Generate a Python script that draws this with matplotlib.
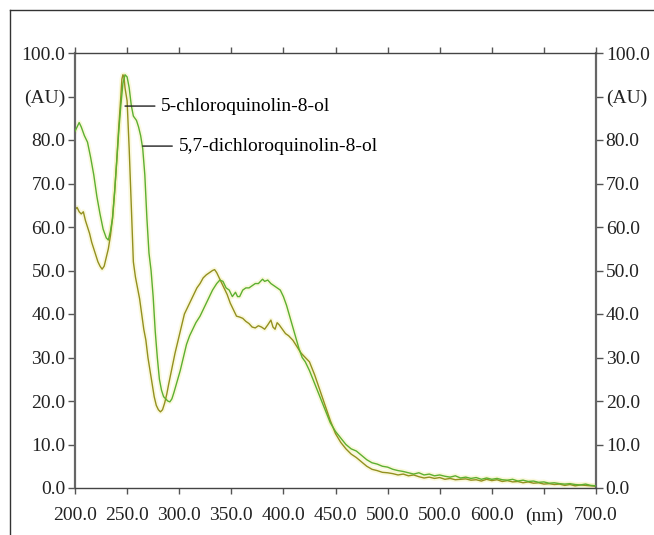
import matplotlib.pyplot as plt
from matplotlib.lines import Line2D

# 5,7-dichloroquinolin-8-ol (green trace)
wl_dichloro = [200, 202, 204, 206, 209, 212, 215, 218, 221, 224, 227, 230, 232, 234, 236, 238,
               240, 242, 244, 246, 248, 250, 252, 254, 256, 259, 261, 263, 265, 267, 269, 271,
               273, 275, 277, 279, 281, 283, 285, 287, 289, 291, 293, 295, 298, 301, 304, 307,
               310, 313, 316, 320, 324, 328, 332, 336, 339, 342, 345, 348, 351, 354, 356, 358,
               361, 364, 367, 370, 373, 376, 378, 380, 382, 385, 388, 391, 394, 397, 400, 403,
               406, 409, 412, 415, 418, 421, 425, 430, 435, 440, 445, 450, 455, 460, 465, 470,
               475, 480, 485, 490, 495, 500, 505, 510, 515, 520, 525, 530, 535, 540, 545, 550,
               555, 560, 565, 570, 575, 580, 585, 590, 595, 600, 605, 610, 615, 620, 625, 630,
               635, 640, 645, 650, 655, 660, 665, 670, 675, 680, 685, 690, 695, 700]
au_dichloro = [82, 83, 84, 83, 81, 79.5, 76, 72, 67, 63, 59.5, 57.5, 57, 59, 62, 68,
               75, 82, 88, 93, 95, 94.5, 92, 88, 85.5, 84.5, 83, 81, 78, 72, 62, 54,
               50, 44, 36, 30, 25, 22.5, 21, 20.5, 20, 19.8, 20.5, 22, 24.5, 27, 30, 33,
               35, 36.5, 38, 39.5, 41.5, 43.5, 45.5, 47, 47.8, 47.5, 46, 45.5, 44, 45, 44, 44,
               45.5, 46, 46, 46.5, 47, 47, 47.5, 48, 47.5, 47.8, 47, 46.5, 46, 45.5, 44, 42,
               39.5, 37, 34.5, 32, 30, 29, 27, 24, 21, 18, 15, 13, 11.5, 10, 9, 8.5,
               7.5, 6.5, 5.8, 5.5, 5, 4.8, 4.3, 4, 3.8, 3.5, 3.2, 3.5, 3, 3.2, 2.8, 3,
               2.7, 2.5, 2.8, 2.3, 2.5, 2.2, 2.4, 2, 2.3, 2, 2.2, 1.9, 1.8, 2, 1.6, 1.8,
               1.5, 1.6, 1.3, 1.4, 1.1, 1.2, 1, 0.9, 1, 0.8, 0.7, 0.9, 0.6, 0.5]

# 5-chloroquinolin-8-ol (olive trace)
wl_chloro = [200, 202, 204, 206, 208, 210, 212, 214, 216, 218, 220, 222, 224, 226, 228, 230,
             232, 234, 236, 238, 240, 242, 244, 245, 246, 247, 248, 250, 252, 254, 256, 258,
             260, 262, 264, 266, 268, 270, 272, 274, 276, 278, 280, 282, 284, 286, 288, 290,
             293, 296, 299, 302, 305, 308, 311, 314, 317, 320, 323, 326, 329, 332, 334, 336,
             338, 340, 343, 346, 349, 352, 355, 358, 361, 364, 367, 370, 373, 376, 379, 382,
             385, 388, 390, 392, 394, 396, 399, 402, 405, 409, 413, 417, 421, 425, 430, 435,
             440, 445, 450, 455, 460, 465, 470, 475, 480, 485, 490, 495, 500, 505, 510, 515,
             520, 525, 530, 535, 540, 545, 550, 555, 560, 565, 570, 575, 580, 585, 590, 595,
             600, 605, 610, 615, 620, 625, 630, 635, 640, 645, 650, 655, 660, 665, 670, 675,
             680, 685, 690, 695, 700]
au_chloro = [64, 64.5, 63.5, 63, 63.5, 61.5, 60, 58.5, 56.5, 55, 53.5, 52, 51, 50.3, 51, 53,
             55, 58, 62, 68, 75, 83, 90, 94, 95, 94.5, 92, 89, 78, 65, 52, 48.5,
             46, 43.5, 40, 36.5, 34, 30, 27, 24, 21, 19, 18, 17.5, 18, 19.5, 21.5, 24,
             27.5, 31, 34, 37, 40, 41.5, 43, 44.5, 46, 47, 48.3, 49, 49.5, 50, 50.2, 49.5,
             48.5, 47.5, 46, 44.5, 42.5, 41, 39.5, 39.3, 39, 38.3, 37.8, 37, 36.8, 37.3, 37, 36.5,
             37.5, 38.6, 37, 36.5, 38, 37.5, 36.5, 35.5, 35, 34, 32.5, 31, 30, 29, 26, 22.5,
             19, 15.5, 12.5, 10.5, 9, 7.8, 7, 6, 5, 4.3, 4, 3.6, 3.5, 3.3, 3, 3.2,
             2.8, 3, 2.6, 2.3, 2.5, 2.2, 2.4, 2, 2.2, 1.9, 2, 2.1, 1.8, 1.9, 1.6, 2,
             1.7, 1.9, 1.5, 1.7, 1.4, 1.5, 1.2, 1.4, 1.1, 1.2, 0.9, 1, 0.8, 0.9, 0.6, 0.8,
             0.5, 0.7, 0.6, 0.5, 0.4]

x_ticks = [200, 250, 300, 350, 400, 450, 500, 550, 600, 650, 700]
x_labels = ["200.0", "250.0", "300.0", "350.0", "400.0", "450.0", "500.0", "500.0",
            "600.0", "(nm)", "700.0"]
y_ticks = [0, 10, 20, 30, 40, 50, 60, 70, 80, 90, 100]
y_labels = ["0.0", "10.0", "20.0", "30.0", "40.0", "50.0", "60.0", "70.0", "80.0",
            "(AU)", "100.0"]

plt.rcParams["font.family"] = ["Liberation Serif", "DejaVu Serif"]

fig = plt.figure(figsize=(6.54, 5.35), dpi=100)
ax = fig.add_axes([75 / 654, 47 / 535, 521 / 654, 435 / 535])

# outer frame (top and left edges only visible)
fig.add_artist(Line2D([10 / 654, 1], [1 - 10 / 535, 1 - 10 / 535], color="#333333", lw=1.0))
fig.add_artist(Line2D([10 / 654, 10 / 654], [0, 1 - 10 / 535], color="#333333", lw=1.0))

green = "#5cb030"
olive = "#93901e"
halo = "#f3eda0"

ax.plot(wl_dichloro, au_dichloro, color=halo, lw=3.5, alpha=0.35, zorder=1)
ax.plot(wl_chloro, au_chloro, color=halo, lw=3.5, alpha=0.35, zorder=1)
ax.plot(wl_dichloro, au_dichloro, color=green, lw=1.0, zorder=3)
ax.plot(wl_chloro, au_chloro, color=olive, lw=1.0, zorder=2)

ax.set_xlim(200, 700)
ax.set_ylim(0, 100)

ax.annotate("5-chloroquinolin-8-ol", xy=(248, 87.8), xytext=(282, 87.8),
            va="center", ha="left", fontsize=14,
            arrowprops=dict(arrowstyle="-", color="#222222", lw=1, shrinkA=2, shrinkB=0))
ax.annotate("5,7-dichloroquinolin-8-ol", xy=(265, 78.6), xytext=(300, 78.6),
            va="center", ha="left", fontsize=14,
            arrowprops=dict(arrowstyle="-", color="#222222", lw=1, shrinkA=3, shrinkB=0))

ax.set_xticks(x_ticks)
ax.set_xticklabels(x_labels)
ax.set_yticks(y_ticks)
ax.set_yticklabels(y_labels)
ax.tick_params(axis="x", direction="out", length=4, width=1, color="#555555",
               labelsize=14, pad=10, top=True, labelcolor="#222222")
ax.tick_params(axis="y", direction="out", length=5, width=1, color="#555555",
               labelsize=14, pad=2, right=True, labelright=True, labelcolor="#222222")

for side in ["left", "right"]:
    ax.spines[side].set_color("#666666")
    ax.spines[side].set_linewidth(1.6)
for side in ["top", "bottom"]:
    ax.spines[side].set_color("#444444")
    ax.spines[side].set_linewidth(1.0)

fig.savefig("out.png", dpi=100, facecolor="white")
